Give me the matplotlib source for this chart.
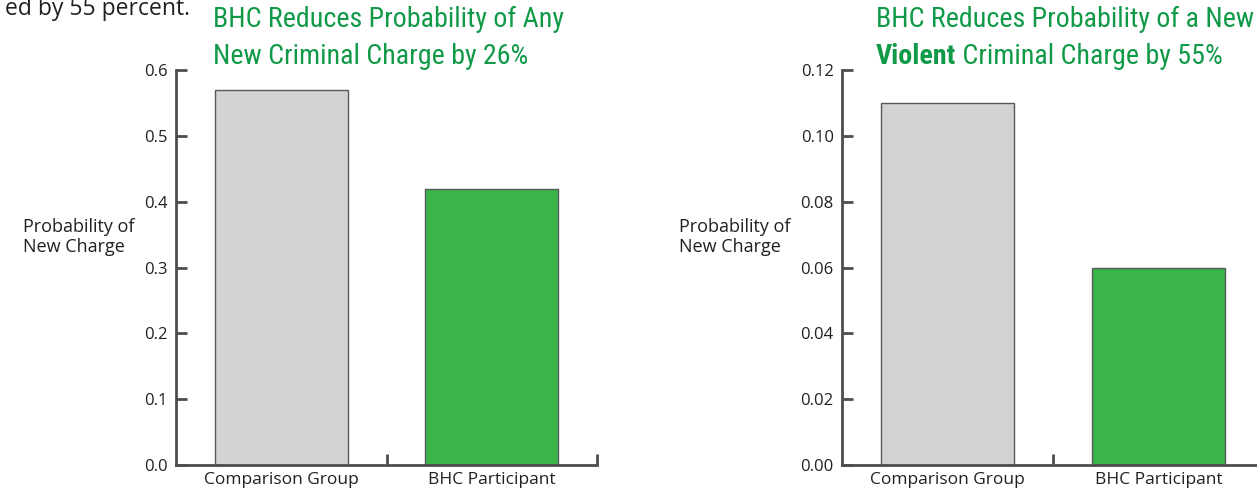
import matplotlib
matplotlib.use("Agg")
import matplotlib.pyplot as plt
from matplotlib import font_manager

# --- Data ---
groups = ["Comparison Group", "BHC Participant"]
any_charge = [0.57, 0.42]
violent_charge = [0.11, 0.06]
any_ticks = [0.0, 0.1, 0.2, 0.3, 0.4, 0.5, 0.6]
violent_ticks = [0.00, 0.02, 0.04, 0.06, 0.08, 0.10, 0.12]

# --- Style ---
GRAY = "#d1d3d4"
GREEN = "#39b54a"
TITLE_GREEN = "#109a48"
AXIS = "#4d4d4f"
TEXT = "#231f20"

names = {f.name for f in font_manager.fontManager.ttflist}
BODY = "Open Sans" if "Open Sans" in names else "DejaVu Sans"
NARROW = next((n for n in ["Roboto Condensed", "Liberation Sans Narrow", "Roboto"]
               if n in names), BODY)
TSIZE = 17 if NARROW == "Roboto" else 20.2
plt.rcParams["font.family"] = BODY

W, H = 1257, 493
fig = plt.figure(figsize=(W / 100, H / 100), dpi=100)


def px(x, y):
    return x / W, 1 - y / H


def draw_panel(rect, values, yticks, fmt, ylabel_x):
    ax = fig.add_axes(rect)
    ax.bar(range(len(values)), values, width=0.63, color=[GRAY, GREEN],
           edgecolor="#58595b", linewidth=1)
    ax.set_xlim(-0.5, 1.5)
    ax.set_ylim(yticks[0], yticks[-1])
    ax.set_yticks(yticks)
    ax.set_yticklabels([fmt.format(t) for t in yticks], fontsize=12, color=TEXT)
    ax.set_xticks(range(len(groups)))
    ax.set_xticklabels(groups, fontsize=12.5, color=TEXT)
    ax.set_xticks([0.5, 1.5], minor=True)
    ax.tick_params(axis="x", which="major", length=0, pad=5)
    ax.tick_params(axis="x", which="minor", direction="in", length=8,
                   width=2, color=AXIS)
    ax.tick_params(axis="y", direction="in", length=8, width=2, color=AXIS, pad=6)
    for s in ["top", "right"]:
        ax.spines[s].set_visible(False)
    for s in ["left", "bottom"]:
        ax.spines[s].set_color(AXIS)
        ax.spines[s].set_linewidth(2)
    fig.text(*px(ylabel_x, 237), "Probability of\nNew Charge", fontsize=13,
             color=TEXT, ha="left", va="center", linespacing=1.15)
    return ax


draw_panel([176 / W, 28 / H, 421 / W, 395 / H], any_charge, any_ticks,
           "{:.1f}", 23)
draw_panel([842 / W, 28 / H, 422 / W, 395 / H], violent_charge, violent_ticks,
           "{:.2f}", 679)

# titles
fig.text(*px(213, 27), "BHC Reduces Probability of Any", fontsize=TSIZE,
         family=NARROW, color=TITLE_GREEN, va="baseline")
fig.text(*px(213, 64), "New Criminal Charge by 26%", fontsize=TSIZE,
         family=NARROW, color=TITLE_GREEN, va="baseline")
fig.text(*px(876, 27), "BHC Reduces Probability of a New", fontsize=TSIZE,
         family=NARROW, color=TITLE_GREEN, va="baseline")
t1 = fig.text(*px(876, 64), "Violent", fontsize=TSIZE, family=NARROW,
              weight="bold", color=TITLE_GREEN, va="baseline")
plt.annotate(" Criminal Charge by 55%", xy=(1, 0), xycoords=t1,
             fontsize=TSIZE, family=NARROW, color=TITLE_GREEN, va="bottom")

# cut-off text from surrounding page
fig.text(*px(190, 15), "ed by 55 percent.", fontsize=16.5, color=TEXT,
         ha="right", va="baseline")

fig.savefig("out.png", dpi=100)
